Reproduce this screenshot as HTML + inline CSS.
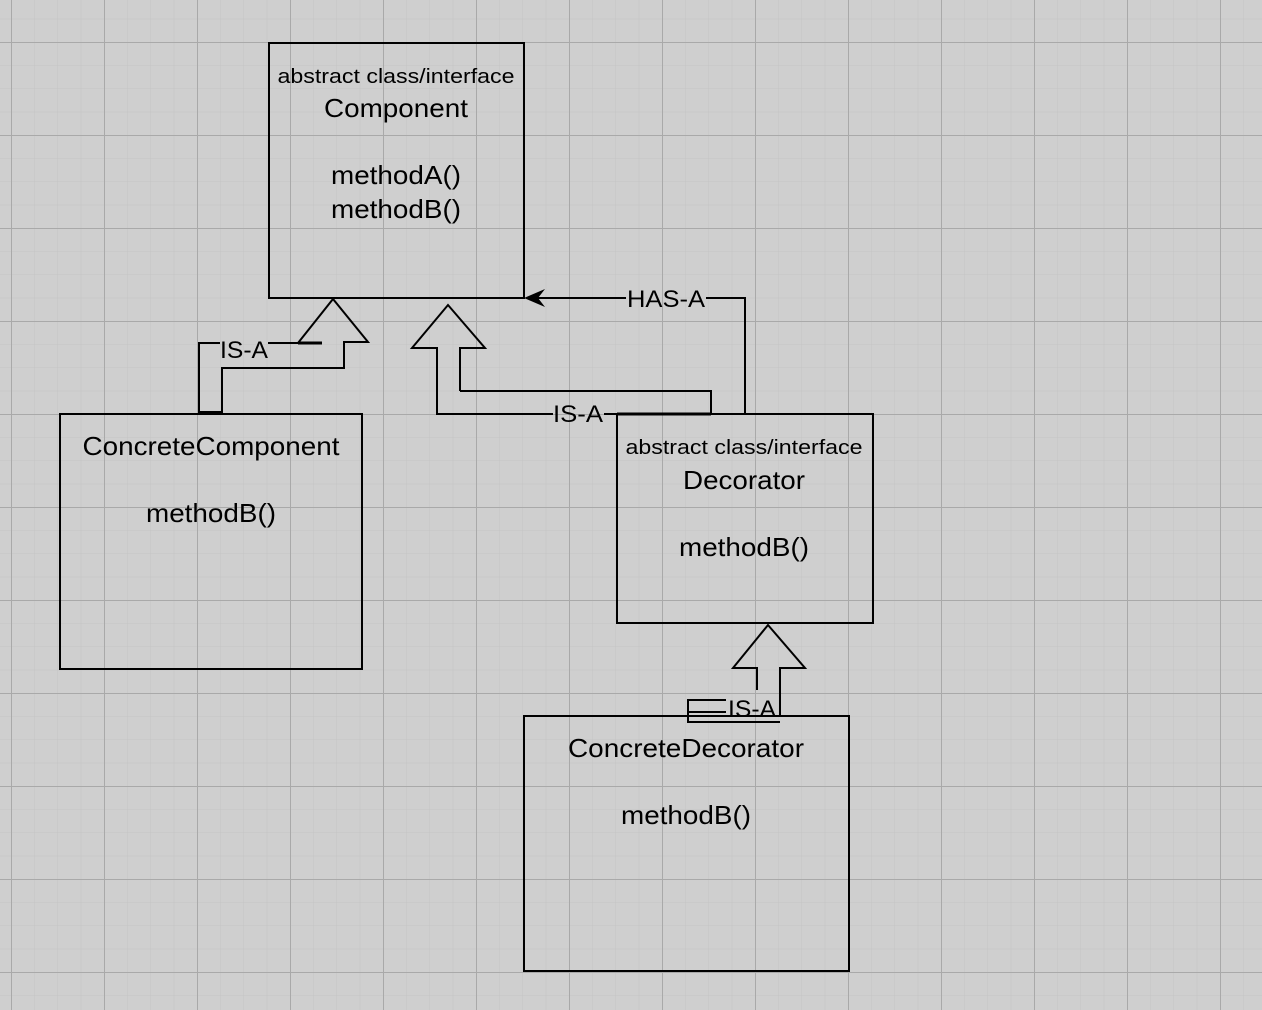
<!DOCTYPE html>
<html><head><meta charset="utf-8"><style>
html,body{margin:0;padding:0;background:#cfcfcf;}
svg{display:block;}
text{font-family:"Liberation Sans",Arial,sans-serif;fill:#000;}
</style></head><body>
<svg width="1262" height="1010" viewBox="0 0 1262 1010" xmlns="http://www.w3.org/2000/svg">
<defs>
<pattern id="minor" x="11" y="42" width="23.25" height="23.25" patternUnits="userSpaceOnUse">
<path d="M0 0V23.25M0 0H23.25" stroke="#c4c4c4" stroke-width="1" fill="none"/>
</pattern>
<pattern id="major" x="11" y="42" width="93" height="93" patternUnits="userSpaceOnUse">
<path d="M0.5 0V93M0 0.5H93" stroke="#a9a9a9" stroke-width="1" fill="none"/>
</pattern>
</defs>
<rect width="1262" height="1010" fill="#cfcfcf"/>
<rect width="1262" height="1010" fill="url(#minor)"/>
<rect width="1262" height="1010" fill="url(#major)"/>

<g fill="none" stroke="#000" stroke-width="2">
<rect x="269" y="43" width="255" height="255"/>
<rect x="60" y="414" width="302" height="255"/>
<rect x="617" y="414" width="256" height="209"/>
<rect x="524" y="716" width="325" height="255"/>

<path d="M320 343H298L333 299L368 342H344V368H222V412H199V343H220"/>
<path d="M268 343H320" />
<path d="M298 343H322" stroke-width="3"/>

<path d="M460 391V348H485L448 305L412 348H437V414H553"/>
<path d="M604 414H711V391H460"/>
<path d="M617 414H711" stroke-width="3"/>

<path d="M745 414V298H706"/>
<path d="M626 298H535"/>

<path d="M757 690V668H733L768 625L805 668H780V716"/>
<path d="M726 700H688V722H780"/>
<path d="M688 712H726"/>
</g>
<path d="M524 298L545 289L538 298L545 307Z" fill="#000"/>

<g font-size="20" text-anchor="middle">
<text x="396" y="83" textLength="237" lengthAdjust="spacingAndGlyphs">abstract class/interface</text>
<text x="744" y="454" textLength="237" lengthAdjust="spacingAndGlyphs">abstract class/interface</text>
</g>
<g font-size="26" text-anchor="middle">
<text x="396" y="117" textLength="144" lengthAdjust="spacingAndGlyphs">Component</text>
<text x="396" y="184" textLength="130" lengthAdjust="spacingAndGlyphs">methodA()</text>
<text x="396" y="218" textLength="130" lengthAdjust="spacingAndGlyphs">methodB()</text>
<text x="211" y="455" textLength="257" lengthAdjust="spacingAndGlyphs">ConcreteComponent</text>
<text x="211" y="522" textLength="130" lengthAdjust="spacingAndGlyphs">methodB()</text>
<text x="744" y="489" textLength="122" lengthAdjust="spacingAndGlyphs">Decorator</text>
<text x="744" y="556" textLength="130" lengthAdjust="spacingAndGlyphs">methodB()</text>
<text x="686" y="757" textLength="236" lengthAdjust="spacingAndGlyphs">ConcreteDecorator</text>
<text x="686" y="824" textLength="130" lengthAdjust="spacingAndGlyphs">methodB()</text>
</g>
<g font-size="24" text-anchor="middle">
<text x="244" y="358" textLength="48" lengthAdjust="spacingAndGlyphs">IS-A</text>
<text x="578" y="422" textLength="50" lengthAdjust="spacingAndGlyphs">IS-A</text>
<text x="666" y="307" textLength="78" lengthAdjust="spacingAndGlyphs">HAS-A</text>
<text x="752" y="717" textLength="48" lengthAdjust="spacingAndGlyphs">IS-A</text>
</g>
</svg>
</body></html>
